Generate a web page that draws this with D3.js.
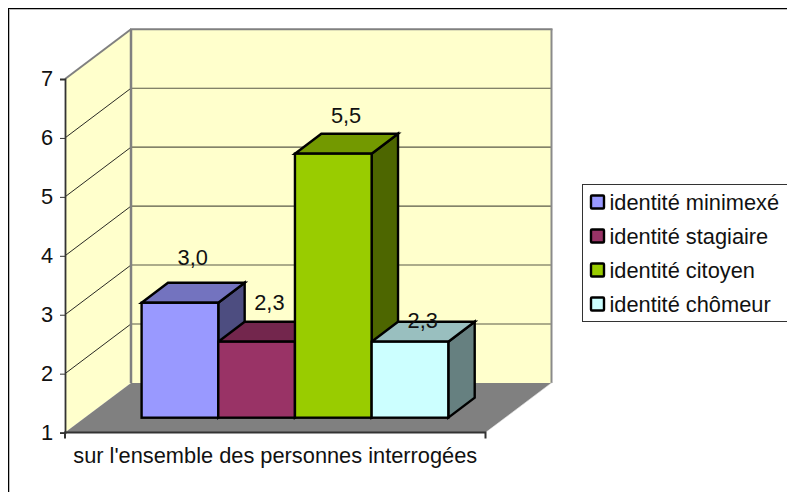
<!DOCTYPE html>
<html><head><meta charset="utf-8">
<script src="https://cdn.jsdelivr.net/npm/d3@7/dist/d3.min.js"></script>
<style>html,body{margin:0;padding:0;background:#fff;overflow:hidden}svg{display:block}text{font-family:"Liberation Sans",Arial,sans-serif;fill:#111}</style>
</head><body><script>
const seriesNames = ["identité minimexé","identité stagiaire","identité citoyen","identité chômeur"];
const seriesValues = [2.95,2.29,5.48,2.29];
const seriesColors = ["#9999FF","#993366","#99CC00","#CCFFFF"];
const categoryLabel = ["sur l'ensemble des personnes interrogées"];
const yTicks = [1,2,3,4,5,6,7];

const W=787,H=492,FS=21.8;
const svg=d3.select("body").append("svg").attr("width",W).attr("height",H);
const left=65,right=485.5,depthX=66,depthY=-49.7;
const y=d3.scaleLinear().domain([1,7]).range([432.6,79]);
const frontX=19.7,frontY=14.9;
const x=d3.scaleBand().domain(seriesNames).range([left+frontX,right+frontX]).paddingInner(0).paddingOuter(0.742);
const fmt=v=>v.toFixed(1).replace(".",",");
const poly=(pts,fill,stroke,sw,g=svg)=>g.append("path").attr("d",d3.line()(pts)+"Z").attr("fill",fill).attr("stroke",stroke||"none").attr("stroke-width",sw||0).attr("stroke-linejoin","miter");
const line=(x1,y1,x2,y2,c,w)=>svg.append("line").attr("x1",x1).attr("y1",y1).attr("x2",x2).attr("y2",y2).attr("stroke",c).attr("stroke-width",w);

// chart frame
svg.append("rect").attr("x",9.5).attr("y",9.5).attr("width",W).attr("height",H).attr("fill","none").attr("stroke","#bbb").attr("stroke-width",1);
svg.append("rect").attr("x",8.5).attr("y",8.5).attr("width",W).attr("height",H).attr("fill","none").attr("stroke","#000").attr("stroke-width",1);

// walls
const yTop=y(7),yBot=y(1);
const bx=left+depthX;
const rx=right+depthX;
poly([[left,yTop],[bx,yTop+depthY],[bx,yBot+depthY],[left,yBot]],"#FFFFCC");
poly([[bx,yTop+depthY],[rx,yTop+depthY],[rx,yBot+depthY],[bx,yBot+depthY]],"#FFFFCC");
// gridlines
yTicks.slice(1,-1).forEach(t=>{
  line(left,y(t),bx,y(t)+depthY,"#111",0.9);
  line(bx,y(t)+depthY,rx,y(t)+depthY,"#5a5a48",1.1);
});
// floor
poly([[left,yBot],[bx,yBot+depthY],[rx,yBot+depthY],[right,yBot]],"#808080");
// wall edges
line(bx,yTop+depthY,bx,yBot+depthY,"#808080",2.5);
line(left,yTop,bx,yTop+depthY,"#808080",2);
line(bx-1,yTop+depthY,rx+1,yTop+depthY,"#808080",2);
line(rx,yTop+depthY,rx,yBot+depthY,"#8a8a8a",2);
line(right,yBot,rx,yBot+depthY,"#eee",0.6);

// bars
const base=y(1)-frontY, barDX=26.4, barDY=-20;
const shade=(c,k)=>{const r=d3.rgb(c);return d3.rgb(r.r*k,r.g*k,r.b*k).formatHex();};
seriesNames.forEach((s,i)=>{
  const x0=x(s),x1=x0+x.bandwidth(),top=y(seriesValues[i])-frontY;
  poly([[x1,top],[x1+barDX,top+barDY],[x1+barDX,base+barDY],[x1,base]],shade(seriesColors[i],0.5),"#000",2.4);
  poly([[x0,top],[x0+barDX,top+barDY],[x1+barDX,top+barDY],[x1,top]],shade(seriesColors[i],0.75),"#000",2.4);
});
seriesNames.forEach((s,i)=>{
  const x0=x(s),top=y(seriesValues[i])-frontY;
  svg.append("rect").attr("x",x0).attr("y",top).attr("width",x.bandwidth()).attr("height",base-top)
    .attr("fill",seriesColors[i]).attr("stroke","#000").attr("stroke-width",2.4);
});
// value labels
const labelLift=[38.7,31.7,30.7,13.7];
seriesNames.forEach((s,i)=>{
  svg.append("text").attr("x",x(s)+x.bandwidth()/2+12.8).attr("y",y(seriesValues[i])-frontY-labelLift[i]+0.5)
    .attr("text-anchor","middle").attr("font-size",FS).text(fmt(seriesValues[i]));
});

// axes
const axisY=svg.append("g").attr("transform",`translate(${left},0)`).call(d3.axisLeft(y).tickValues(yTicks).tickSize(5).tickPadding(7).tickFormat(d3.format("d")));
axisY.selectAll("path").attr("stroke","#333").attr("stroke-width",1.8);
axisY.selectAll("line").attr("stroke","#333");
axisY.selectAll("text").attr("font-size",FS).style("font-family",'"Liberation Sans"').attr("fill","#111");
const xAxisScale=d3.scaleBand().domain(categoryLabel).range([left,right]);
const axisX=svg.append("g").attr("transform",`translate(0,${yBot})`).call(d3.axisBottom(xAxisScale).tickSize(0).tickPadding(14.5));
axisX.select("path").attr("stroke","#333").attr("stroke-width",2).attr("d",`M${left},6V0H${right}V6`);
axisX.selectAll("text").attr("font-size",FS).style("font-family",'"Liberation Sans"').attr("fill","#111");

// legend
svg.append("rect").attr("x",582.5).attr("y",184.5).attr("width",220).attr("height",137).attr("fill","#fff").attr("stroke","#333").attr("stroke-width",1);
const ly=d3.scalePoint().domain(seriesNames).range([202,304]);
seriesNames.forEach((s,i)=>{
  svg.append("rect").attr("x",591).attr("y",ly(s)-6.5).attr("width",13).attr("height",13).attr("rx",1)
    .attr("fill",seriesColors[i]).attr("stroke","#000").attr("stroke-width",2.4);
  svg.append("text").attr("x",609.5).attr("y",ly(s)+8).attr("font-size",FS).text(s);
});
</script></body></html>
